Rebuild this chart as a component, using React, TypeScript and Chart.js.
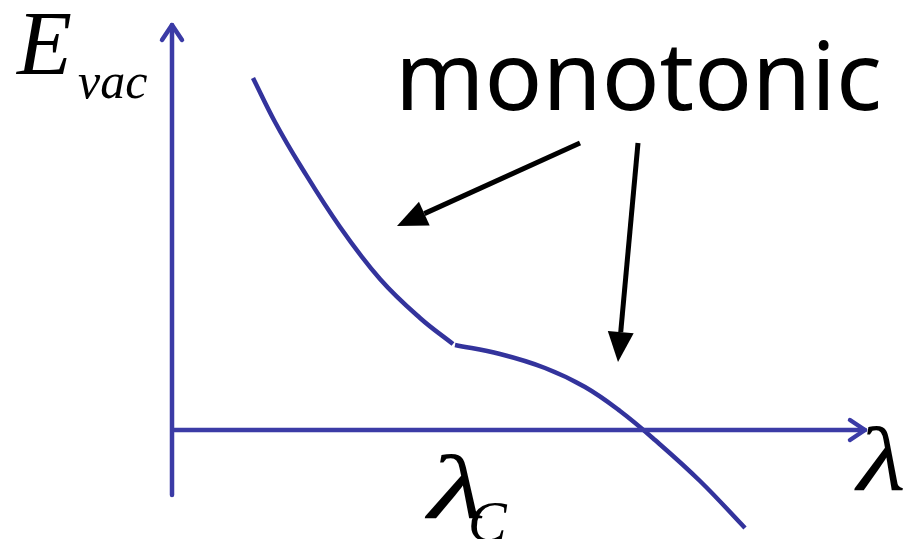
import React, { useEffect, useRef } from "react";
import { Chart, registerables } from "chart.js";

Chart.register(...registerables);

// Curve branch above λ_C (x = λ, y = E_vac), abstract units
const branch1X = [0.81, 1.03, 1.28, 1.68, 2.08, 2.48, 2.81];
const branch1Y = [3.52, 3.08, 2.65, 2.03, 1.51, 1.12, 0.86];
// Curve branch beyond λ_C
const branch2X = [2.83, 3.28, 3.73, 4.13, 4.48, 4.83, 5.28, 5.73];
const branch2Y = [0.85, 0.76, 0.62, 0.43, 0.19, -0.10, -0.51, -0.98];

// Axis extents
const xAxisEnd = 6.93;
const yAxisStart = -0.65;
const yAxisEnd = 4.05;

// Annotation arrows: [fromX, fromY, toX, toY]
const arrow1 = [4.08, 2.87, 2.25, 2.04];
const arrow2 = [4.66, 2.87, 4.46, 0.68];

const labelMain = "monotonic";
const labelY = "E";
const labelYSub = "vac";
const labelX = "λ";
const labelCrit = "λ";
const labelCritSub = "C";

const AXIS = "#3b3ba6";
const CURVE = "#33339c";

const App: React.FC = () => {
  const ref = useRef<HTMLCanvasElement>(null);

  useEffect(() => {
    document.body.style.margin = "0";
    const canvas = ref.current!;
    const toPts = (xs: number[], ys: number[]) => xs.map((x, i) => ({ x, y: ys[i] }));

    const overlay = {
      id: "overlay",
      afterDatasetsDraw(chart: any) {
        const ctx = chart.ctx as CanvasRenderingContext2D;
        const xs = chart.scales.x;
        const ys = chart.scales.y;
        const px = (v: number) => xs.getPixelForValue(v);
        const py = (v: number) => ys.getPixelForValue(v);
        ctx.save();
        // axes
        ctx.strokeStyle = AXIS;
        ctx.lineWidth = 4.5;
        ctx.lineCap = "round";
        ctx.lineJoin = "round";
        const x0 = px(0), y0 = py(0);
        ctx.beginPath();
        ctx.moveTo(x0, py(yAxisStart));
        ctx.lineTo(x0, py(yAxisEnd));
        ctx.moveTo(x0, y0);
        ctx.lineTo(px(xAxisEnd), y0);
        ctx.stroke();
        // chevrons
        const yt = py(yAxisEnd);
        ctx.beginPath();
        ctx.moveTo(x0 - 10, yt + 15);
        ctx.lineTo(x0, yt);
        ctx.lineTo(x0 + 10, yt + 15);
        const xt = px(xAxisEnd);
        ctx.moveTo(xt - 15, y0 - 10);
        ctx.lineTo(xt, y0);
        ctx.lineTo(xt - 15, y0 + 10);
        ctx.stroke();

        // black arrows
        const drawArrow = (a: number[]) => {
          const fx = px(a[0]), fy = py(a[1]), tx = px(a[2]), ty = py(a[3]);
          const ang = Math.atan2(ty - fy, tx - fx);
          const hl = 30, hw = 13;
          const bx = tx - hl * Math.cos(ang), by = ty - hl * Math.sin(ang);
          ctx.strokeStyle = "#000";
          ctx.fillStyle = "#000";
          ctx.lineWidth = 5;
          ctx.lineCap = "butt";
          ctx.beginPath();
          ctx.moveTo(fx, fy);
          ctx.lineTo(bx, by);
          ctx.stroke();
          ctx.beginPath();
          ctx.moveTo(tx, ty);
          ctx.lineTo(bx + hw * Math.sin(ang), by - hw * Math.cos(ang));
          ctx.lineTo(bx - hw * Math.sin(ang), by + hw * Math.cos(ang));
          ctx.closePath();
          ctx.fill();
        };
        drawArrow(arrow1);
        drawArrow(arrow2);

        // texts
        ctx.fillStyle = "#000";
        ctx.textBaseline = "alphabetic";
        ctx.textAlign = "left";
        let size = 90;
        ctx.font = `${size}px "Noto Sans", sans-serif`;
        const w = ctx.measureText(labelMain).width;
        size = size * 487 / w;
        ctx.font = `${size}px "Noto Sans", sans-serif`;
        ctx.fillText(labelMain, 395, 110);

        ctx.font = `italic 90px "Liberation Serif", serif`;
        ctx.fillText(labelY, 17, 74);
        ctx.font = `italic 50px "Liberation Serif", serif`;
        ctx.fillText(labelYSub, 78, 98);

        // right λ
        ctx.save();
        ctx.translate(px(xAxisEnd) - 8, y0 + 60);
        ctx.scale(1.25, 1);
        ctx.font = `italic 90px "Liberation Serif", serif`;
        ctx.fillText(labelX, 0, 0);
        ctx.restore();

        // λ_C
        ctx.save();
        ctx.translate(px(2.56), y0 + 88);
        ctx.scale(1.45, 1);
        ctx.font = `italic 92px "Liberation Serif", serif`;
        ctx.fillText(labelCrit, 0, 0);
        ctx.restore();
        ctx.font = `italic 58px "Liberation Serif", serif`;
        ctx.fillText(labelCritSub, px(2.96), y0 + 111);
        ctx.restore();
      },
    };

    const chart = new Chart(canvas, {
      type: "scatter",
      data: {
        datasets: [
          {
            data: toPts(branch1X, branch1Y),
            showLine: true,
            borderColor: CURVE,
            borderWidth: 4.5,
            pointRadius: 0,
            tension: 0.4,
          } as any,
          {
            data: toPts(branch2X, branch2Y),
            showLine: true,
            borderColor: CURVE,
            borderWidth: 4.5,
            pointRadius: 0,
            tension: 0.4,
          } as any,
        ],
      },
      options: {
        animation: false,
        responsive: false,
        maintainAspectRatio: false,
        layout: { padding: 0 },
        plugins: { legend: { display: false }, tooltip: { enabled: false } },
        scales: {
          x: { type: "linear", min: -1.72, max: 7.39, display: false },
          y: { type: "linear", min: -1.09, max: 4.30, display: false },
        },
      },
      plugins: [overlay],
    });
    return () => chart.destroy();
  }, []);

  return (
    <div style={{ width: 911, height: 539, background: "#fff" }}>
      <canvas ref={ref} width={911} height={539} />
    </div>
  );
};

export default App;
